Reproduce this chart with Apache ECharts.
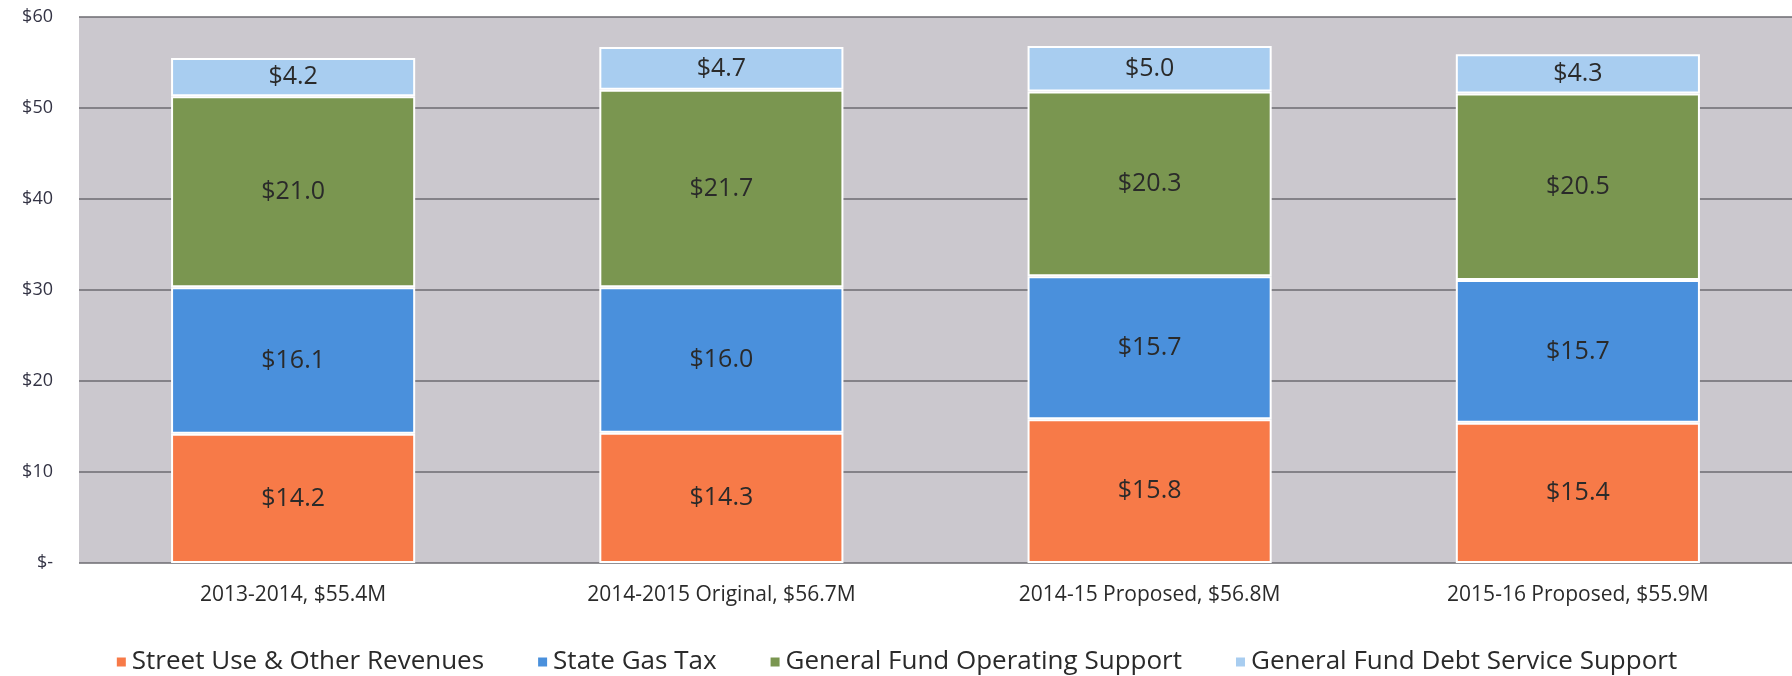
<!DOCTYPE html>
<html>
<head>
<meta charset="utf-8">
<script src="https://cdn.jsdelivr.net/npm/echarts@6/dist/echarts.min.js"></script>
<style>
  html, body { margin: 0; padding: 0; background: #fff; }
  #main { width: 1792px; height: 676px; }
</style>
</head>
<body>
<div id="main"></div>
<script>
// categories on the x axis
var categories = ['2013-2014, $55.4M', '2014-2015 Original, $56.7M', '2014-15 Proposed, $56.8M', '2015-16 Proposed, $55.9M'];
// stacked values ($M)
var streetUse = [14.2, 14.3, 15.8, 15.4];
var gasTax = [16.1, 16.0, 15.7, 15.7];
var gfOperating = [21.0, 21.7, 20.3, 20.5];
var gfDebt = [4.2, 4.7, 5.0, 4.3];
var seriesNames = ['Street Use & Other Revenues', 'State Gas Tax', 'General Fund Operating Support', 'General Fund Debt Service Support'];

var myChart = echarts.init(document.getElementById('main'));

// 每个系列同样的样式
var makeSeries = function(name, data) {
    return {
        type: 'bar',
        name: name,
        stack: 'total',
        barWidth: '57%',
        data: data,
        itemStyle: {
            borderColor: '#ffffff',
            borderWidth: 2
        },
        label: {
            show: true,
            position: 'inside',
            fontFamily: 'Open Sans',
            fontSize: 25,
            color: '#2a2a2a',
            formatter: function(p) {
                return '$' + p.value.toFixed(1);
            }
        }
    };
};

var option = {
    animation: false,
    color: ['#f77a48', '#4a90dc', '#7a9650', '#a8cdf0'],
    grid: {
        show: true,
        left: 79,
        right: 0,
        top: 17,
        bottom: 113,
        backgroundColor: '#cbc8ce',
        borderWidth: 0
    },
    legend: {
        data: seriesNames,
        left: 'center',
        top: 644,
        icon: 'rect',
        itemWidth: 11,
        itemHeight: 11,
        itemGap: 52,
        textStyle: {
            fontFamily: 'Open Sans',
            fontSize: 26,
            color: '#2a2a2a'
        }
    },
    xAxis: {
        type: 'category',
        data: categories,
        axisLine: { show: false },
        axisTick: { show: false },
        axisLabel: {
            margin: 22,
            fontFamily: 'Open Sans',
            fontSize: 21,
            color: '#2a2a2a'
        }
    },
    yAxis: {
        type: 'value',
        min: 0,
        max: 60,
        interval: 10,
        axisLine: { show: false },
        axisTick: { show: false },
        axisLabel: {
            margin: 26,
            fontFamily: 'Open Sans',
            fontSize: 18,
            color: '#333344',
            formatter: function(v) {
                return v === 0 ? '$-' : '$' + v;
            }
        },
        splitLine: {
            lineStyle: { color: '#6c6b70', width: 1.5 }
        }
    },
    series: [
        makeSeries(seriesNames[0], streetUse),
        makeSeries(seriesNames[1], gasTax),
        makeSeries(seriesNames[2], gfOperating),
        makeSeries(seriesNames[3], gfDebt)
    ]
};

myChart.setOption(option);
</script>
</body>
</html>
